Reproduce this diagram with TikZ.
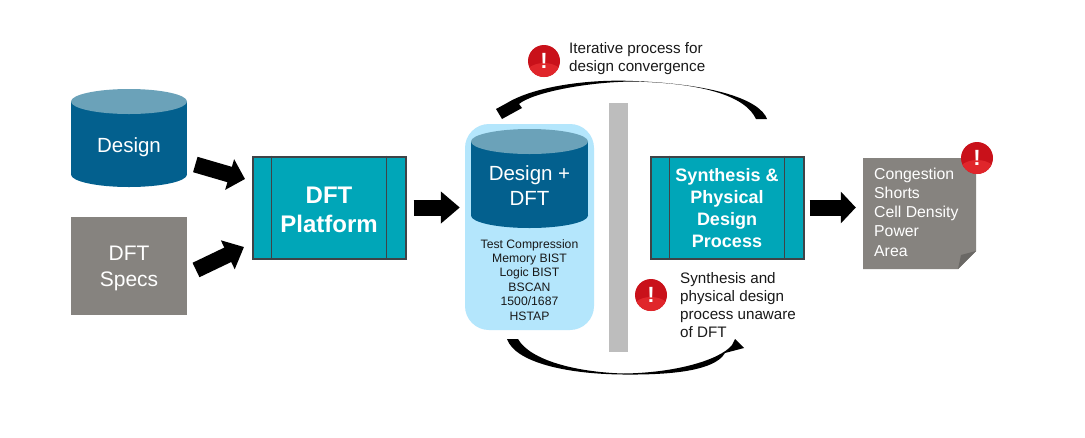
\documentclass[tikz,border=0pt]{standalone}
\usepackage{fontspec}
\setmainfont{Liberation Sans}
\usetikzlibrary{arrows.meta,calc}
\definecolor{cylside}{HTML}{03608E}
\definecolor{cyltop}{HTML}{6BA2B9}
\definecolor{graybox}{HTML}{86837F}
\definecolor{foldgray}{HTML}{6A6865}
\definecolor{teal}{HTML}{00A6B8}
\definecolor{boxline}{HTML}{3F4347}
\definecolor{paleblue}{HTML}{B4E6FC}
\definecolor{barg}{HTML}{BDBDBD}
\definecolor{alertred}{HTML}{C9111A}
\definecolor{alertlow}{HTML}{E0262B}
\newcommand{\fsz}[2]{\fontsize{#1pt}{#2pt}\selectfont}
\tikzset{
  x=1pt,y=-1pt,
  whitelabel/.style={text=white,align=center,inner sep=0pt},
  darklabel/.style={text=black!90,inner sep=0pt},
  procbox/.style={draw=boxline,line width=2pt,fill=teal,minimum width=153pt,minimum height=102pt,inner sep=0pt},
  divider/.style={draw=boxline,line width=1.8pt},
  blockarrow/.style={draw=black,line width=16pt,-{Triangle[width=31pt,length=#1]}},
  blockarrow/.default=17pt,
  alertmark/.style={circle,minimum size=32pt,inner sep=0pt,text=white,font=\bfseries\fsz{22}{22}},
}
% cylinder: xleft xright ytop-of-ellipse ybottom
\newcommand{\cylshape}[4]{%
  \fill[cylside] (#1,{#3+12.5}) rectangle (#2,{#4-12.5});
  \fill[cylside] ({(#1+#2)/2},{#4-12.5}) ellipse [x radius={(#2-#1)/2*1pt},y radius=12.5pt];
  \fill[cyltop] ({(#1+#2)/2},{#3+12.5}) ellipse [x radius={(#2-#1)/2*1pt},y radius=12.5pt];
}
\newcommand{\alerticon}[3]{%
  \fill[alertred] (#2,#3) circle [radius=16pt];
  \begin{scope}
    \clip (#2,#3) circle [radius=16pt];
    \fill[alertlow] (#2,{#3+19}) ellipse [x radius=22pt,y radius=17pt];
  \end{scope}
  \node[alertmark] (#1) at (#2,#3) {!};
}
\begin{document}
\begin{tikzpicture}
\useasboundingbox (0,0) rectangle (1085,437);
\fill[white] (0,0) rectangle (1085,437);

% left inputs
\cylshape{71}{187}{89}{187}
\node[whitelabel,font=\fsz{20.5}{25}] (design) at (129,147.5) {Design};
\node[fill=graybox,minimum width=116pt,minimum height=98pt,inner sep=0pt] (specs) at (129,266) {};
\node[whitelabel,font=\fsz{21}{26}] (specstext) at (129,268) {DFT\\Specs};

% DFT platform
\node[procbox] (platform) at (329,207.5) {};
\draw[divider] ([xshift=20pt]platform.north west) -- ([xshift=20pt]platform.south west);
\draw[divider] ([xshift=-20pt]platform.north east) -- ([xshift=-20pt]platform.south east);
\node[whitelabel,font=\bfseries\fsz{24}{29}] (platformtext) at (329,210) {DFT\\Platform};

% design + DFT
\node[fill=paleblue,rounded corners=24pt,minimum width=129pt,minimum height=206pt,inner sep=0pt] (merged) at (529.5,227) {};
\cylshape{471}{588}{129}{228}
\node[whitelabel,font=\fsz{20.5}{25}] (mergedtitle) at (529.5,185.5) {Design +\\DFT};
\node[darklabel,align=center,font=\fsz{12.2}{14.4}] (features) at (529.5,279.7) {Test Compression\\Memory BIST\\Logic BIST\\BSCAN\\1500/1687\\HSTAP};

% divider bar
\node[fill=barg,minimum width=19pt,minimum height=249pt,inner sep=0pt] (bar) at (618.5,227.5) {};

% synthesis
\node[procbox] (synth) at (727,207.5) {};
\draw[divider] ([xshift=20pt]synth.north west) -- ([xshift=20pt]synth.south west);
\draw[divider] ([xshift=-20pt]synth.north east) -- ([xshift=-20pt]synth.south east);
\node[whitelabel,font=\bfseries\fsz{18}{22}] (synthtext) at (727,208.5) {Synthesis \&\\Physical\\Design\\Process};

% note
\fill[graybox] (863,158) -- (976,158) -- (976,251) -- (958,269) -- (863,269) -- cycle;
\fill[foldgray] (976,251) -- (958,269) -- (961,255) -- cycle;
\node[minimum width=113pt,minimum height=111pt,inner sep=0pt] (note) at (919.5,213.5) {};
\node[anchor=west,text=white,align=left,inner sep=0pt,font=\fsz{15.8}{19.2}] (notetext) at (874,212) {Congestion\\Shorts\\Cell Density\\Power\\Area};

% straight block arrows
\coordinate (d1) at (195.3,164.5);
\coordinate (d2) at (245,179);
\coordinate (s1) at (196,270);
\coordinate (s2) at (244,247);
\draw[blockarrow=16pt] (d1) -- (d2);
\draw[blockarrow=18pt] (s1) -- (s2);
\draw[blockarrow=19pt,shorten <=7pt,shorten >=5pt] (platform.east) -- (platform.east -| merged.west);
\draw[blockarrow=15pt,shorten <=5pt,shorten >=7pt] (synth.east) -- (synth.east -| note.west);

% curved arrows
\fill[black] (767,119) .. controls (760,100) and (715,84) .. (633,81)
  .. controls (590,79) and (535,86) .. (507,103) -- (496,109) -- (502,119) -- (522,108) -- (519,104)
  .. controls (532,93) and (585,82) .. (633,81.5)
  .. controls (700,83) and (745,95) .. (756,119) -- cycle;
\fill[black] (507,339) .. controls (515,362) and (565,374) .. (623,374.5)
  .. controls (670,375) and (708,371) .. (722,357) -- (725,353) -- (744,348) -- (735,339) -- (732,345)
  .. controls (720,360) and (675,373) .. (623,373.5)
  .. controls (575,372) and (530,360) .. (518,339) -- cycle;

% remarks
\node[darklabel,anchor=west,align=left,font=\fsz{15.2}{18}] (iter) at (569,59) {Iterative process for\\design convergence};
\node[darklabel,anchor=west,align=left,font=\fsz{15.2}{18}] (unaware) at (680,305) {Synthesis and\\physical design\\process unaware\\of DFT};

% alert icons
\alerticon{alerta}{544}{61}
\alerticon{alertb}{651}{295}
\alerticon{alertc}{977}{158}
\end{tikzpicture}
\end{document}
